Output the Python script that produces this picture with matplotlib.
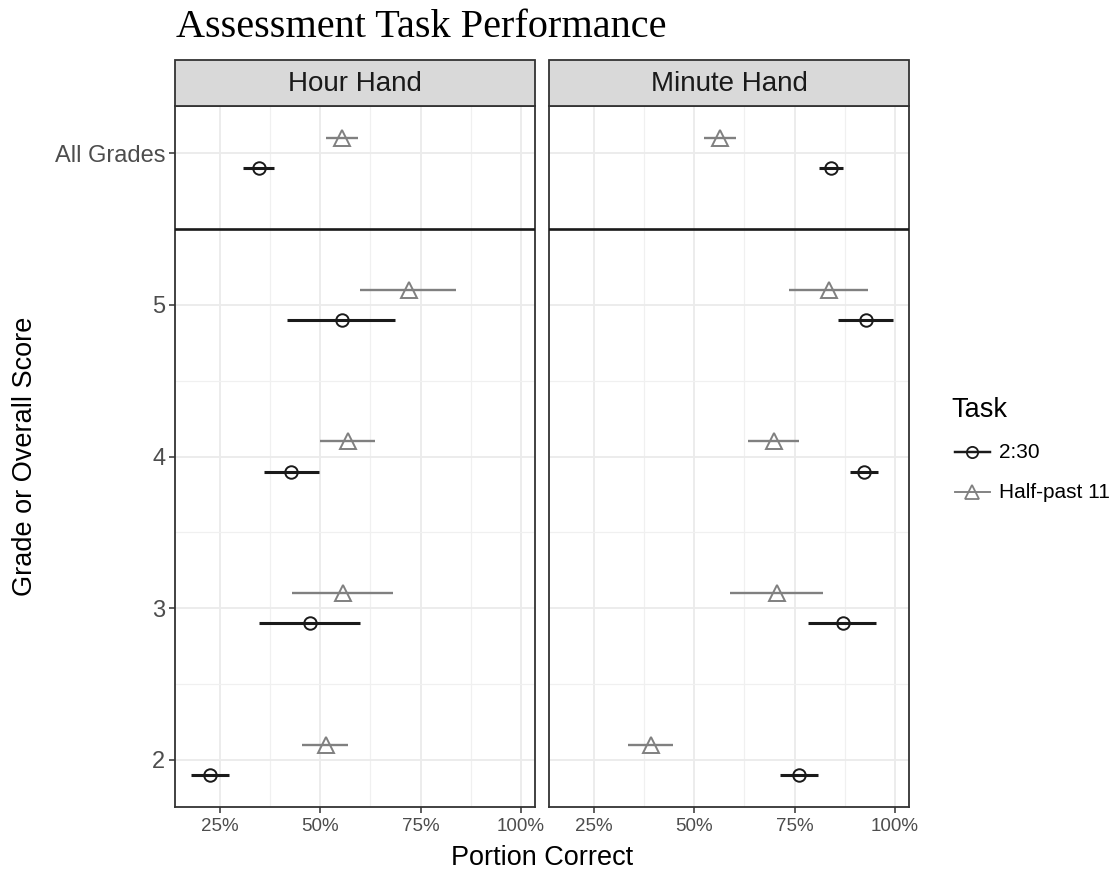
import matplotlib
matplotlib.use("Agg")
import matplotlib.pyplot as plt
from matplotlib.patches import Rectangle
from matplotlib.lines import Line2D
import numpy as np

# ---- data ----
row_labels = ["All Grades", "5", "4", "3", "2"]
row_pos = [6, 5, 4, 3, 2]
facets = ["Hour Hand", "Minute Hand"]
tasks = ["2:30", "Half-past 11"]

hour_230_mid = [34.7, 55.4, 42.8, 47.4, 22.6]
hour_230_lo = [30.7, 41.8, 35.9, 34.7, 17.7]
hour_230_hi = [38.5, 68.7, 49.7, 60.0, 27.3]
hour_half_mid = [55.4, 72.1, 56.9, 55.6, 51.4]
hour_half_lo = [51.4, 60.0, 50.0, 43.0, 45.5]
hour_half_hi = [59.3, 83.9, 63.6, 68.2, 57.0]

min_230_mid = [84.1, 92.7, 92.25, 87.0, 76.2]
min_230_lo = [81.1, 85.75, 88.75, 78.4, 71.25]
min_230_hi = [87.0, 99.6, 95.85, 95.4, 80.9]
min_half_mid = [56.4, 83.5, 69.9, 70.6, 39.2]
min_half_lo = [52.4, 73.5, 63.5, 58.9, 33.5]
min_half_hi = [60.4, 93.35, 76.1, 82.1, 44.75]

x_ticks = [25, 50, 75, 100]
x_tick_labels = ["25%", "50%", "75%", "100%"]

# ---- style ----
plt.rcParams['font.family'] = ['Liberation Sans', 'DejaVu Sans']
W, H = 1115, 873
fig = plt.figure(figsize=(W / 100, H / 100), dpi=100)
fig.patch.set_facecolor("white")

c_230 = "#1a1a1a"
c_half = "#808080"
dodge = {"2:30": -0.1, "Half-past 11": 0.1}
marker = {"2:30": "o", "Half-past 11": "^"}
msize = {"2:30": 9, "Half-past 11": 11}
color = {"2:30": c_230, "Half-past 11": c_half}
lw = {"2:30": 2.2, "Half-past 11": 1.7}
border = "#333333"

panel_data = {
    "Hour Hand": {"2:30": (hour_230_mid, hour_230_lo, hour_230_hi),
                  "Half-past 11": (hour_half_mid, hour_half_lo, hour_half_hi)},
    "Minute Hand": {"2:30": (min_230_mid, min_230_lo, min_230_hi),
                    "Half-past 11": (min_half_mid, min_half_lo, min_half_hi)},
}

def fx(px):
    return px / W

def fy(py):
    return 1 - py / H

panel_left = [175, 549]
panel_w = 360
top_px, bot_px = 106, 807
strip_top = 60

for i, facet in enumerate(facets):
    ax = fig.add_axes([fx(panel_left[i]), fy(bot_px), panel_w / W, (bot_px - top_px) / H])
    ax.set_xlim(13.8, 103.5)
    ax.set_ylim(1.69, 6.31)
    ax.set_xticks(x_ticks)
    ax.set_xticklabels(x_tick_labels)
    ax.set_xticks([37.5, 62.5, 87.5], minor=True)
    ax.set_yticks(row_pos)
    ax.set_yticks([2.5, 3.5, 4.5, 5.5], minor=True)
    if i == 0:
        ax.set_yticklabels(row_labels)
    else:
        ax.set_yticklabels([])
    ax.grid(True, which="major", color="#ebebeb", lw=1.3)
    ax.grid(True, which="minor", color="#f0f0f0", lw=0.9)
    ax.set_axisbelow(True)
    ax.tick_params(axis="x", which="major", labelsize=13.5, colors=border,
                   labelcolor="#4d4d4d", length=4, width=1.1, pad=4)
    ax.tick_params(axis="y", which="major", labelsize=17, colors=border,
                   labelcolor="#4d4d4d", length=4, width=1.1, pad=3)
    ax.tick_params(axis="both", which="minor", length=0)
    if i == 1:
        ax.tick_params(axis="y", length=0)
    for s in ax.spines.values():
        s.set_color(border)
        s.set_linewidth(1.3)
    ax.axhline(5.5, color="#1a1a1a", lw=1.9, zorder=3)

    for t in tasks:
        mid, lo, hi = panel_data[facet][t]
        y = np.array(row_pos) + dodge[t]
        ax.hlines(y, lo, hi, color=color[t], lw=lw[t], zorder=4)
        ax.plot(mid, y, linestyle="none", marker=marker[t], markersize=msize[t],
                markerfacecolor="none", markeredgecolor=color[t],
                markeredgewidth=1.4, zorder=5)

    # strip
    fig.patches.append(Rectangle((fx(panel_left[i]), fy(top_px)), panel_w / W,
                                 (top_px - strip_top) / H, transform=fig.transFigure,
                                 facecolor="#d9d9d9", edgecolor=border, lw=1.3, zorder=0))
    fig.text(fx(panel_left[i] + panel_w / 2), fy((strip_top + top_px) / 2 + 1), facet,
             ha="center", va="center", fontsize=20, color="#1a1a1a")

# axis titles
fig.text(fx((175 + 909) / 2), fy(858), "Portion Correct", ha="center", va="center",
         fontsize=19.5, color="black")
fig.text(fx(25), fy((top_px + bot_px) / 2), "Grade or Overall Score", ha="center",
         va="center", rotation=90, fontsize=19.5, color="black")

# title
fig.text(fx(176), fy(37), "Assessment Task Performance", ha="left", va="baseline",
         fontsize=29, family=["Liberation Serif", "DejaVu Serif"], color="black")

# legend
fig.text(fx(951), fy(410), "Task", ha="left", va="center", fontsize=19.5, color="black")
leg_y = [452, 492]
for t, ly in zip(tasks, leg_y):
    fig.lines.append(Line2D([fx(955), fx(990)], [fy(ly), fy(ly)], transform=fig.transFigure,
                            color=color[t], lw=lw[t] * 0.8))
    fig.lines.append(Line2D([fx(972)], [fy(ly)], transform=fig.transFigure,
                            marker=marker[t], markersize=msize[t] * 0.9, markerfacecolor="none",
                            markeredgecolor=color[t], markeredgewidth=1.3, linestyle="none"))
    fig.text(fx(999), fy(ly), t, ha="left", va="center", fontsize=15, color="black")

fig.savefig("out.png", dpi=100, facecolor="white")
